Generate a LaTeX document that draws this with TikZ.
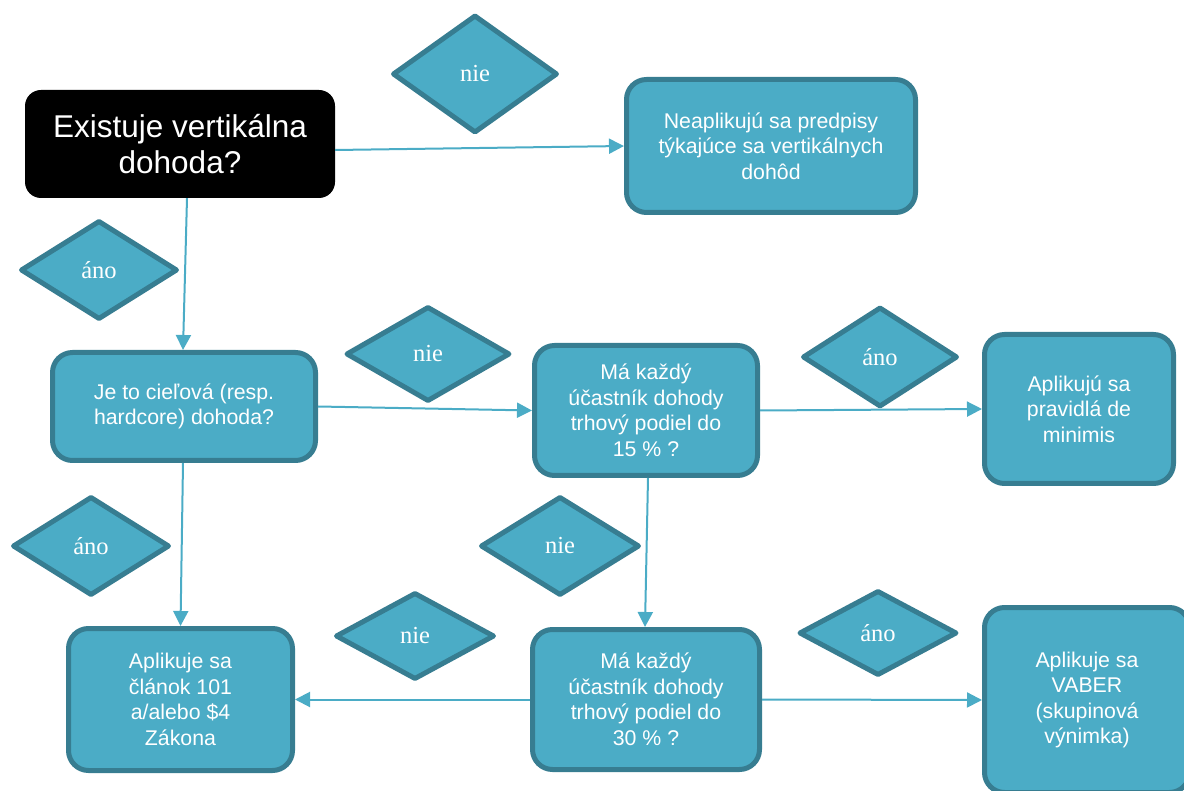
\documentclass[tikz,border=0pt]{standalone}
\usepackage{fontspec}
\setmainfont{Liberation Sans}
\newfontfamily\serifd{Liberation Serif}
\usetikzlibrary{shapes.geometric,arrows.meta,calc}

\definecolor{boxfill}{RGB}{75,172,198}
\definecolor{boxline}{RGB}{55,125,145}
\definecolor{arrowc}{RGB}{75,172,198}

\tikzset{
 bluebox/.style={draw=boxline, fill=boxfill, line width=5pt, rounded corners=20pt, text=white, align=center, font=\fontsize{21.3}{25.5}\selectfont, inner sep=0pt},
 blackbox/.style={fill=black, rounded corners=16pt, text=white, align=center, font=\fontsize{31.5}{36}\selectfont, inner sep=0pt},
 dec/.style={diamond, draw=boxline, fill=boxfill, line width=5pt, line join=round, text=white, font=\serifd\fontsize{24.5}{28}\selectfont, inner sep=0pt},
 conn/.style={draw=arrowc, line width=2pt, -{Triangle[length=15pt,width=15pt]}},
}

\begin{document}
\begin{tikzpicture}[x=1pt,y=-1pt]
\clip (0,0) rectangle (1184,791);
\useasboundingbox (0,0) rectangle (1184,791);

% boxes
\node[blackbox, minimum width=310, minimum height=108] (black) at (180,144) {Existuje vertikálna\\dohoda?};
\node[bluebox, minimum width=289, minimum height=133] (neap) at (771,146) {Neaplikujú sa predpisy\\týkajúce sa vertikálnych\\dohôd};
\node[bluebox, minimum width=263, minimum height=108] (je) at (184,406.5) {Je to cieľová (resp.\\hardcore) dohoda?};
\node[bluebox, minimum width=223, minimum height=130] (ma15) at (646,410.5) {Má každý\\účastník dohody\\trhový podiel do\\15 \% ?};
\node[bluebox, minimum width=189, minimum height=149] (mini) at (1079,409) {Aplikujú sa\\pravidlá de\\minimis};
\node[bluebox, minimum width=224, minimum height=142] (cl101) at (180.5,699.5) {Aplikuje sa\\článok 101\\a/alebo \$4\\Zákona};
\node[bluebox, minimum width=227, minimum height=140] (ma30) at (646,699.5) {Má každý\\účastník dohody\\trhový podiel do\\30 \% ?};
\node[bluebox, minimum width=205, minimum height=185] (vaber) at (1087,700) {Aplikuje sa\\VABER\\(skupinová\\výnimka)};

% diamonds
\node[dec, minimum width=165, minimum height=118] (d1) at (475,74) {nie};
\node[dec, minimum width=157, minimum height=99] (d2) at (99,270) {áno};
\node[dec, minimum width=164, minimum height=95] (d3) at (428,354) {nie};
\node[dec, minimum width=155, minimum height=100] (d4) at (880,357) {áno};
\node[dec, minimum width=157, minimum height=99] (d5) at (91,546) {áno};
\node[dec, minimum width=159, minimum height=99] (d6) at (560,546) {nie};
\node[dec, minimum width=159, minimum height=87] (d7) at (415,636) {nie};
\node[dec, minimum width=158, minimum height=85] (d8) at (878,633) {áno};

% connectors
\draw[conn] ($(black.east)+(0,6)$) -- (neap.west);
\draw[conn] ($(black.south)+(7,0)$) -- ($(je.north)+(-1,0)$);
\draw[conn] (je.east) -- (ma15.west);
\draw[conn] (ma15.east) -- (mini.west);
\draw[conn] ($(je.south)+(-1,0)$) -- (cl101.north);
\draw[conn] ($(ma15.south)+(2,0)$) -- ($(ma30.north)+(-1,0)$);
\draw[conn] (ma30.west) -- (cl101.east);
\draw[conn] (ma30.east) -- (vaber.west);
\end{tikzpicture}
\end{document}
